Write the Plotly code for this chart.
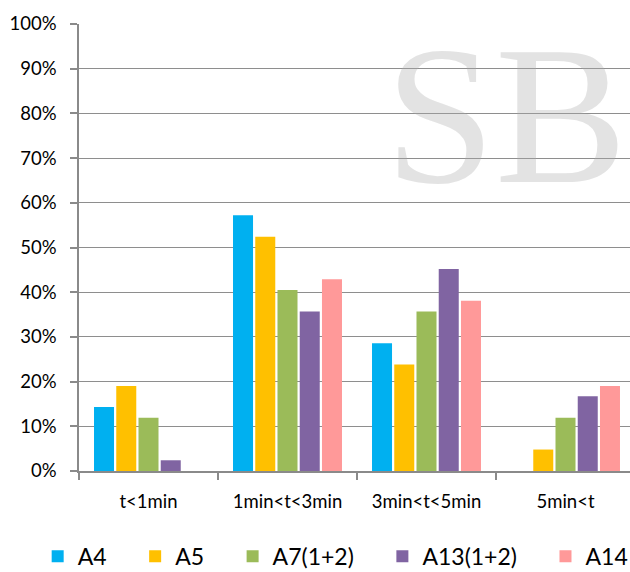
import plotly.graph_objects as go

categories = ["t<1min", "1min<t<3min", "3min<t<5min", "5min<t"]
series_names = ["A4", "A5", "A7(1+2)", "A13(1+2)", "A14"]
a4 = [0.143, 0.572, 0.286, 0.0]
a5 = [0.190, 0.524, 0.238, 0.048]
a7 = [0.119, 0.405, 0.357, 0.119]
a13 = [0.024, 0.357, 0.452, 0.167]
a14 = [0.0, 0.429, 0.381, 0.190]
y_ticks = [0, 0.1, 0.2, 0.3, 0.4, 0.5, 0.6, 0.7, 0.8, 0.9, 1.0]
y_tick_labels = ["0%", "10%", "20%", "30%", "40%", "50%", "60%", "70%", "80%", "90%", "100%"]

colors = ["#00B0F0", "#FFC000", "#9BBB59", "#8064A2", "#FF9999"]
values = [a4, a5, a7, a13, a14]

FONT = "Lato"
fig = go.Figure()
pad = "\u00a0" * 4
for i, (name, vals, col) in enumerate(zip(series_names, values, colors)):
    label = name + (pad if i < len(series_names) - 1 else "")
    fig.add_trace(go.Bar(x=categories, y=vals, name=label, marker=dict(color=col, line=dict(width=0))))

fig.add_annotation(text="SB", xref="paper", yref="paper", x=0.775, y=0.795,
                   xanchor="center", yanchor="middle", showarrow=False,
                   font=dict(family="Liberation Serif", size=198, color="rgba(170,170,170,0.33)"))

fig.update_layout(
    width=630, height=572,
    margin=dict(l=79, r=0, t=24, b=101, autoexpand=False),
    paper_bgcolor="white", plot_bgcolor="white",
    barmode="group", bargap=0.2, bargroupgap=0.1,
    font=dict(family=FONT, size=18.5, color="black"),
    legend=dict(orientation="h", x=-0.075, xanchor="left", y=-0.239, yanchor="bottom",
                font=dict(size=23, family=FONT), traceorder="normal", borderwidth=0),
    xaxis=dict(range=[-0.5, 3.464], showline=True, linecolor="#8a8a8a", linewidth=1.5,
               ticks="outside", tickson="boundaries", ticklen=7, tickcolor="#8a8a8a", tickwidth=1.5,
               showgrid=False, ticklabelstandoff=13, tickfont=dict(size=18.5), automargin=False),
    yaxis=dict(range=[0, 1], tickvals=y_ticks, ticktext=y_tick_labels, showline=True,
               linecolor="#8a8a8a", linewidth=1.5, ticks="outside", ticklen=7,
               tickcolor="#8a8a8a", tickwidth=1.5, showgrid=True, gridcolor="#8e8e8e",
               gridwidth=1.2, zeroline=False, tickfont=dict(size=18.5), automargin=False,
               ticklabelstandoff=10),
)

fig.write_html("out.html", config={"displayModeBar": False},
               post_script="document.body.style.margin='0';document.body.style.padding='0';")
